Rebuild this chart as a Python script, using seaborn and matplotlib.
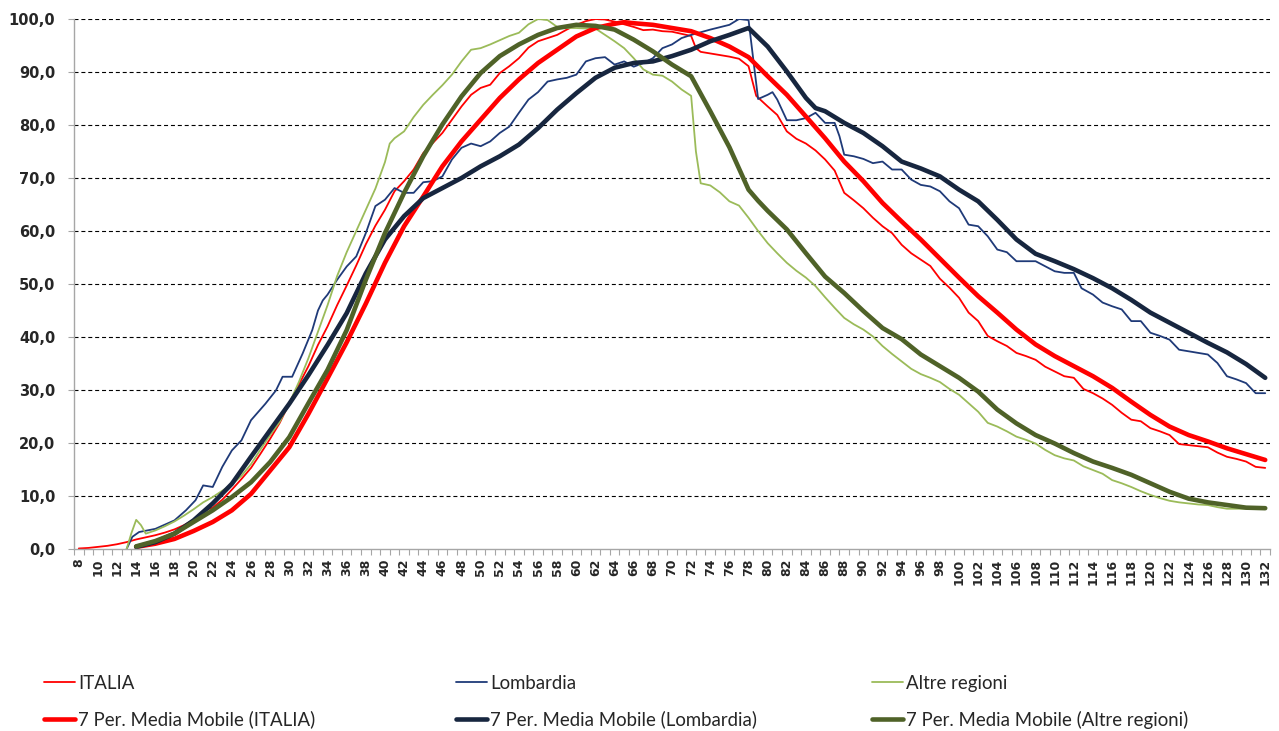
import matplotlib
matplotlib.use("Agg")
import matplotlib.pyplot as plt
import seaborn as sns
from matplotlib.ticker import FuncFormatter
from matplotlib.lines import Line2D

# ---- data ----
italia_x = [8, 9, 10, 11, 12, 13, 14, 15, 16, 17, 18, 19, 20, 21, 22, 23, 24, 25, 26, 27, 28, 29, 30,
            31, 32, 33, 34, 35, 36, 37, 38, 39, 40, 41, 42, 43, 44, 45, 46, 47, 48, 49, 50, 51, 52, 53,
            54, 55, 56, 57, 58, 59, 60, 61, 62, 63, 64, 65, 66, 67, 68, 69, 70, 71, 72, 72.5, 73, 74,
            75, 76, 77, 78, 78.8, 80, 81, 82, 83, 84, 85, 86, 87, 88, 89, 90, 91, 92, 93, 94, 95, 96,
            97, 98, 99, 100, 101, 102, 103, 104, 105, 106, 107, 108, 109, 110, 111, 112, 113, 114,
            115, 116, 117, 118, 119, 120, 121, 122, 123, 124, 125, 126, 127, 128, 129, 130, 131, 132]
italia_y = [0.1, 0.2, 0.4, 0.6, 0.9, 1.3, 1.8, 2.2, 2.6, 3.1, 3.7, 4.5, 5.5, 7.2, 7.8, 9.3, 11.2, 13.2,
            15.3, 18.0, 20.8, 23.8, 27.5, 31.0, 34.5, 38.5, 42.0, 46.0, 49.7, 53.5, 57.5, 61.0, 64.0,
            67.5, 69.4, 71.6, 74.7, 76.6, 78.5, 81.0, 83.5, 85.7, 87.0, 87.6, 89.8, 91.1, 92.6, 94.6,
            95.8, 96.4, 97.0, 98.0, 98.9, 99.6, 100.0, 99.9, 99.5, 99.0, 98.5, 97.9, 98.0, 97.7, 97.6,
            97.2, 96.8, 94.5, 93.8, 93.5, 93.2, 92.9, 92.5, 91.1, 85.5, 83.5, 81.9, 78.8, 77.4, 76.5,
            75.2, 73.5, 71.4, 67.2, 65.8, 64.3, 62.5, 60.9, 59.6, 57.4, 55.8, 54.6, 53.4, 51.0, 49.3,
            47.4, 44.6, 43.0, 40.2, 39.2, 38.3, 37.0, 36.4, 35.7, 34.4, 33.5, 32.6, 32.3, 30.2, 29.4,
            28.4, 27.2, 25.7, 24.4, 24.1, 22.8, 22.2, 21.5, 19.8, 19.6, 19.4, 19.2, 18.2, 17.4, 17.0,
            16.5, 15.5, 15.3]

lomb_x = [13, 13.6, 14.3, 16, 18, 19.2, 20.2, 21, 22, 23, 24, 25, 26, 27.5, 28.6, 29.3, 30.3, 31.4,
          32.4, 33, 33.5, 34, 35, 36, 37, 38, 39, 40, 41, 42, 43, 44, 45, 46, 47, 48, 49, 50, 51, 52,
          53, 54, 55, 56, 57, 58, 59, 60, 61, 62, 63, 64, 65, 66, 67, 68, 69, 70, 71, 72, 74, 76, 77,
          78, 78.5, 79, 80, 80.5, 81, 82, 83, 84, 85, 86, 87, 87.5, 88, 89, 90, 91, 92, 93, 94, 95,
          96, 97, 98, 99, 100, 101, 102, 103, 104, 105, 106, 108, 110, 111, 112, 112.8, 114, 115,
          116, 117, 118, 119, 120, 121, 122, 123, 124, 126, 127, 128, 129, 130, 131, 132]
lomb_y = [0.0, 2.3, 3.2, 3.8, 5.4, 7.3, 9.2, 12.0, 11.7, 15.5, 18.6, 20.5, 24.3, 27.4, 29.9, 32.5, 32.5,
          36.9, 41.3, 45.0, 46.9, 48.0, 50.8, 53.3, 55.2, 59.6, 64.7, 65.9, 68.1, 67.2, 67.2, 69.2,
          69.4, 70.3, 73.5, 75.7, 76.5, 76.0, 76.9, 78.5, 79.7, 82.3, 84.8, 86.2, 88.2, 88.6, 88.9,
          89.5, 92.0, 92.6, 92.8, 91.4, 92.0, 91.0, 91.7, 92.6, 94.5, 95.2, 96.4, 97.0, 98.0, 98.9,
          100.0, 99.8, 92.3, 84.9, 85.7, 86.2, 84.8, 80.9, 80.9, 81.3, 82.3, 80.4, 80.4, 77.9, 74.4,
          74.1, 73.6, 72.8, 73.1, 71.6, 71.6, 69.7, 68.7, 68.4, 67.5, 65.6, 64.3, 61.2, 60.9, 59.0,
          56.5, 56.0, 54.3, 54.3, 52.4, 52.1, 52.1, 49.2, 48.0, 46.5, 45.8, 45.2, 43.0, 43.0, 40.8,
          40.2, 39.5, 37.6, 37.3, 36.7, 35.1, 32.6, 32.0, 31.3, 29.4, 29.4]

altre_x = [13, 13.5, 14, 14.5, 15, 16, 17, 18, 19, 20, 21, 22, 23, 24, 25, 26, 27, 28, 29, 30, 31, 32,
           33, 34, 35, 36, 37, 38, 39, 40, 40.5, 41, 42, 43, 44, 45, 46, 47, 48, 49, 50, 51, 52, 53,
           54, 55, 56, 57, 58, 59, 60, 61, 62, 63, 64, 65, 66, 67, 68, 69, 70, 71, 72, 72.5, 73, 74,
           75, 76, 77, 78, 79, 80, 81, 82, 83, 84, 85, 86, 87, 88, 89, 90, 91, 92, 93, 94, 95, 96, 97,
           98, 99, 100, 101, 102, 103, 104, 105, 106, 107, 108, 109, 110, 111, 112, 113, 114, 115,
           116, 117, 118, 119, 120, 121, 122, 123, 124, 125, 126, 127, 128, 130, 132]
altre_y = [0.0, 3.0, 5.5, 4.5, 2.9, 3.5, 4.3, 5.2, 6.3, 7.5, 8.8, 9.8, 11.0, 12.2, 13.8, 16.0, 18.8,
           21.5, 24.0, 27.5, 31.5, 36.0, 41.0, 46.0, 51.5, 56.0, 60.0, 64.0, 68.0, 73.0, 76.5, 77.5,
           78.8, 81.5, 83.8, 85.7, 87.5, 89.5, 92.0, 94.2, 94.5, 95.2, 96.0, 96.8, 97.4, 99.0, 100.0,
           99.8, 98.5, 98.3, 98.3, 98.2, 98.2, 97.0, 95.8, 94.5, 92.6, 90.5, 89.5, 89.3, 88.2, 86.7,
           85.5, 75.0, 69.0, 68.6, 67.3, 65.6, 64.8, 62.5, 60.0, 57.7, 55.8, 54.0, 52.5, 51.2, 49.6,
           47.5, 45.5, 43.6, 42.4, 41.4, 40.1, 38.3, 36.8, 35.4, 34.0, 33.0, 32.3, 31.5, 30.2, 29.1,
           27.5, 25.9, 23.8, 23.1, 22.2, 21.2, 20.6, 19.9, 18.7, 17.7, 17.1, 16.7, 15.6, 14.9, 14.2,
           13.0, 12.4, 11.7, 10.9, 10.2, 9.6, 9.1, 8.8, 8.6, 8.4, 8.3, 7.9, 7.6, 7.6, 7.6]

# 7 period moving averages (as drawn in the reference)
italia_ma_x = [14, 16, 18, 20, 22, 24, 26, 28, 30, 32, 34, 36, 38, 40, 42, 44, 46, 48, 50, 52, 54, 56,
               58, 60, 62, 64, 65, 66, 68, 70, 72, 74, 76, 78, 80, 82, 84, 86, 88, 90, 92, 94, 96, 98,
               100, 102, 104, 106, 108, 110, 112, 114, 116, 118, 120, 122, 124, 126, 128, 130, 132]
italia_ma_y = [0.4, 1.0, 1.9, 3.4, 5.1, 7.3, 10.4, 14.8, 19.2, 25.5, 32.2, 39.0, 46.3, 54.0, 60.9, 66.5,
               72.2, 76.9, 81.0, 85.1, 88.6, 91.7, 94.2, 96.7, 98.3, 99.1, 99.4, 99.2, 98.9, 98.3, 97.7,
               96.4, 94.8, 92.8, 89.2, 85.7, 81.6, 77.5, 73.1, 69.4, 65.3, 61.8, 58.4, 54.8, 51.2, 47.7,
               44.6, 41.4, 38.6, 36.4, 34.5, 32.6, 30.4, 27.8, 25.3, 23.1, 21.5, 20.3, 19.0, 17.9, 16.8]

lomb_ma_x = [14, 16, 18, 20, 22, 24, 26, 28, 30, 32, 34, 36, 38, 40, 42, 44, 46, 48, 50, 52, 54, 56,
             58, 60, 62, 64, 66, 68, 70, 72, 74, 76, 78, 80, 82, 84, 85, 86, 88, 90, 92, 94, 96, 98,
             100, 102, 104, 106, 108, 110, 112, 114, 116, 118, 120, 122, 124, 126, 128, 130, 132]
lomb_ma_y = [0.4, 1.3, 2.9, 5.4, 8.6, 12.3, 17.4, 22.4, 27.4, 32.8, 38.5, 44.5, 52.0, 58.4, 62.8, 66.2,
             68.1, 70.0, 72.2, 74.1, 76.3, 79.4, 82.9, 86.0, 88.9, 90.8, 91.7, 92.0, 93.0, 94.2, 95.8,
             97.0, 98.3, 94.8, 90.1, 85.1, 83.2, 82.6, 80.4, 78.5, 76.0, 73.1, 71.8, 70.3, 67.8, 65.6,
             62.1, 58.4, 55.7, 54.3, 52.8, 51.1, 49.2, 47.0, 44.6, 42.7, 40.8, 38.9, 37.1, 34.9, 32.3]

altre_ma_x = [14, 16, 18, 20, 22, 24, 26, 28, 30, 32, 34, 36, 38, 40, 42, 44, 46, 48, 50, 52, 54, 56,
              58, 60, 62, 64, 66, 68, 70, 72, 74, 76, 78, 79, 80, 82, 84, 86, 88, 90, 92, 94, 96, 98,
              100, 102, 104, 106, 108, 110, 112, 114, 116, 118, 120, 122, 124, 126, 128, 130, 132]
altre_ma_y = [0.5, 1.5, 2.9, 5.1, 7.3, 9.8, 12.6, 16.4, 21.1, 27.5, 33.8, 41.3, 50.8, 59.6, 67.2, 74.1,
              80.1, 85.4, 89.8, 93.0, 95.2, 97.0, 98.3, 98.9, 98.7, 98.0, 96.1, 93.9, 91.4, 89.2, 82.6,
              75.8, 67.8, 65.7, 63.8, 60.3, 55.8, 51.4, 48.3, 44.9, 41.7, 39.6, 36.7, 34.5, 32.3, 29.7,
              26.3, 23.7, 21.5, 19.9, 18.1, 16.5, 15.3, 14.0, 12.4, 10.8, 9.5, 8.8, 8.3, 7.8, 7.7]

y_ticks = [0, 10, 20, 30, 40, 50, 60, 70, 80, 90, 100]
x_ticks = list(range(8, 133, 2))

labels_thin = ["ITALIA", "Lombardia", "Altre regioni"]
labels_ma = ["7 Per. Media Mobile (ITALIA)", "7 Per. Media Mobile (Lombardia)",
             "7 Per. Media Mobile (Altre regioni)"]

col_thin = ["#FF0000", "#1F3A78", "#9BBB59"]
col_ma = ["#FF0000", "#17263F", "#4F6228"]

sns.set_theme(style="white")
plt.rcParams["font.family"] = ["DejaVu Sans"]

fig = plt.figure(figsize=(12.79, 7.31), dpi=100)
ax = fig.add_axes([74 / 1279, 1 - 549 / 731, (1270 - 74) / 1279, (549 - 19) / 731])

series = [
    (italia_x, italia_y, col_thin[0], 1.3),
    (lomb_x, lomb_y, col_thin[1], 1.3),
    (altre_x, altre_y, col_thin[2], 1.3),
    (italia_ma_x, italia_ma_y, col_ma[0], 3.3),
    (lomb_ma_x, lomb_ma_y, col_ma[1], 3.3),
    (altre_ma_x, altre_ma_y, col_ma[2], 3.3),
]
for xs, ys, c, lw in series:
    sns.lineplot(x=xs, y=ys, ax=ax, color=c, linewidth=lw, sort=False, estimator=None,
                 solid_capstyle="round", solid_joinstyle="round")

ax.set_xlim(7.5, 132.5)
ax.set_ylim(0, 100)
ax.set_yticks(y_ticks)
ax.yaxis.set_major_formatter(FuncFormatter(lambda v, p: f"{v:.1f}".replace(".", ",")))
ax.set_xticks(x_ticks)
ax.set_xticks([v + 0.5 for v in range(7, 133)], minor=True)
ax.grid(axis="y", color="black", linestyle=(0, (3.6, 2.6)), linewidth=0.8)
ax.grid(axis="x", visible=False)
for g in ax.get_ygridlines()[:1]:
    g.set_visible(False)

for s in ["top", "right"]:
    ax.spines[s].set_visible(False)
for s in ["left", "bottom"]:
    ax.spines[s].set_color("#A6A6A6")
    ax.spines[s].set_linewidth(1.0)

ax.tick_params(axis="y", which="major", left=True, length=4.5, width=0.8, color="#A6A6A6",
               pad=9, labelsize=10.5)
ax.tick_params(axis="x", which="major", bottom=False, length=0, pad=7, labelsize=9,
               labelrotation=90)
ax.tick_params(axis="x", which="minor", bottom=True, length=4, width=0.8, color="#A6A6A6")
for t in ax.get_yticklabels() + ax.get_xticklabels():
    t.set_fontweight("bold")
ax.set_xlabel("")
ax.set_ylabel("")

# legend: three columns, each placed like in the reference
col_left = [44, 456, 872]
for i in range(3):
    handles = [Line2D([], [], color=col_thin[i], linewidth=1.3),
               Line2D([], [], color=col_ma[i], linewidth=3.3)]
    fig.legend(handles, [labels_thin[i], labels_ma[i]], loc="upper left",
               bbox_to_anchor=(col_left[i] / 1279, 1 - 675 / 731), frameon=False,
               prop={"family": "Lato", "size": 13.4}, handlelength=1.65, handletextpad=0.2,
               borderpad=0, borderaxespad=0, labelspacing=1.0)

fig.savefig("out.png", dpi=100)
